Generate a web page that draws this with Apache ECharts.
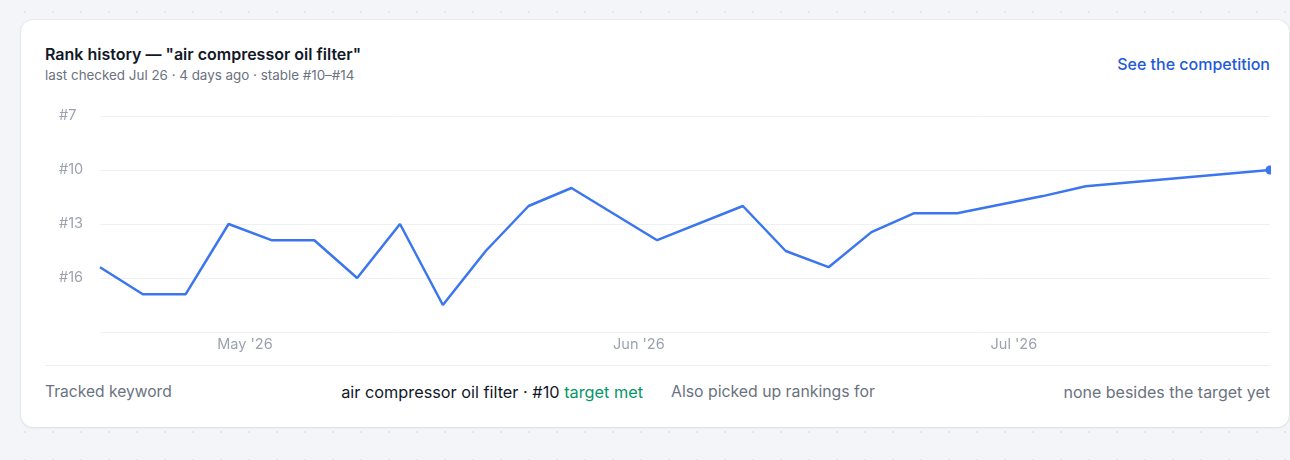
<!DOCTYPE html>
<html><head><meta charset="utf-8">
<script src="https://cdn.jsdelivr.net/npm/echarts@6/dist/echarts.min.js"></script>
<style>
html,body{margin:0;padding:0;width:1290px;height:460px;overflow:hidden;font-family:Inter,"Noto Sans",sans-serif;}
body{position:relative;background-color:#f4f5f8;background-image:radial-gradient(circle,#e2e5ea 1px,transparent 1.3px);background-size:28px 28px;background-position:11px -2px;}
.card{position:absolute;left:21px;top:20px;width:1268px;height:407px;background:#fff;border-radius:12px;box-shadow:0 1px 3px rgba(16,24,40,.07),0 0 0 1px rgba(16,24,40,.04);}
.t{position:absolute;white-space:nowrap;}
#title{left:45px;top:44px;font-size:16px;line-height:20px;font-weight:600;color:#111827;}
#sub{left:45px;top:67px;font-size:13.4px;line-height:16px;color:#6b7280;}
#link{right:20px;top:54px;font-size:16px;line-height:20px;font-weight:500;color:#1f5ad8;}
#sep{position:absolute;left:45px;top:365px;width:1225px;height:1px;background:#eceef2;}
.row{top:382px;font-size:16px;line-height:20px;color:#6b7280;}
#kwLabel{left:45px;font-size:15.6px;}
#kwVal{right:647px;color:#111827;font-size:16.3px;}
#kwVal span{color:#079669;}
#alsoLabel{left:671px;font-size:15.8px;}
#alsoVal{right:20px;}
#chart{position:absolute;left:45px;top:95px;width:1226px;height:262px;}
</style></head>
<body>
<div class="card"></div>
<div class="t" id="title">Rank history — "air compressor oil filter"</div>
<div class="t" id="sub">last checked Jul 26 · 4 days ago · stable #10–#14</div>
<div class="t" id="link">See the competition</div>
<div id="chart"></div>
<div id="sep"></div>
<div class="t row" id="kwLabel">Tracked keyword</div>
<div class="t row" id="kwVal">air compressor oil filter · #10 <span>target met</span></div>
<div class="t row" id="alsoLabel">Also picked up rankings for</div>
<div class="t row" id="alsoVal">none besides the target yet</div>
<script>
const checkDates = [
  '2026-04-19 12:00','2026-04-22 21:36','2026-04-26 07:12','2026-04-29 16:48',
  '2026-05-03 02:24','2026-05-06 12:00','2026-05-09 21:36','2026-05-13 07:12',
  '2026-05-16 16:48','2026-05-20 02:24','2026-05-23 12:00','2026-05-26 21:36',
  '2026-06-02 16:48','2026-06-09 12:00','2026-06-12 21:36','2026-06-16 07:12',
  '2026-06-19 16:48','2026-06-23 02:24','2026-06-26 12:00','2026-07-03 07:12',
  '2026-07-06 16:48','2026-07-21 07:40'
];
const rankValues = [
  15.4, 16.9, 16.9, 13, 13.9, 13.9, 16, 13,
  17.5, 14.5, 12, 11, 13.9, 12, 14.5, 15.4,
  13.45, 12.4, 12.4, 11.45, 10.9, 10
];
const monthTickDates = ['2026-05-01 00:00','2026-06-01 06:00','2026-07-01 00:00'];
const monthTickLabels = ["May '26", "Jun '26", "Jul '26"];
const rankAxisMin = 7, rankAxisMax = 19, rankAxisStep = 3;

const toTs = s => new Date(s.replace(' ', 'T')).getTime();
const checkTs = checkDates.map(toTs);
const monthTs = monthTickDates.map(toTs);
const lastIdx = rankValues.length - 1;
const seriesData = checkTs.map((t, i) => {
  const item = { value: [t, rankValues[i]] };
  if (i === lastIdx) { item.symbol = 'circle'; item.symbolSize = 9; }
  return item;
});

const chart = echarts.init(document.getElementById('chart'), null, { renderer: 'canvas' });
chart.setOption({
  animation: false,
  grid: { left: 55, right: 1, top: 21, bottom: 25, containLabel: false },
  xAxis: {
    type: 'value',
    min: checkTs[0], max: checkTs[lastIdx],
    axisLine: { show: false }, axisTick: { show: false }, splitLine: { show: false },
    axisLabel: {
      customValues: monthTs,
      showMinLabel: true, showMaxLabel: true,
      formatter: v => { const k = monthTs.indexOf(v); return k >= 0 ? monthTickLabels[k] : ''; },
      color: '#9ca3af', fontSize: 14.5, fontFamily: 'Inter', margin: 5
    }
  },
  yAxis: {
    type: 'value', inverse: true,
    min: rankAxisMin, max: rankAxisMax, interval: rankAxisStep,
    axisLine: { show: false }, axisTick: { show: false },
    splitLine: { lineStyle: { color: '#eef0f3', width: 1 } },
    axisLabel: {
      formatter: v => v === rankAxisMax ? '' : '#' + v,
      align: 'left', margin: 41, padding: [6, 0, 0, 0],
      color: '#9ca3af', fontSize: 14.5, fontFamily: 'Inter'
    }
  },
  series: [{
    type: 'line',
    data: seriesData,
    symbol: 'none',
    showSymbol: true,
    lineStyle: { color: '#3b76ef', width: 2.5 },
    itemStyle: { color: '#3b76ef' },
    clip: false
  }]
});
</script>
</body></html>
